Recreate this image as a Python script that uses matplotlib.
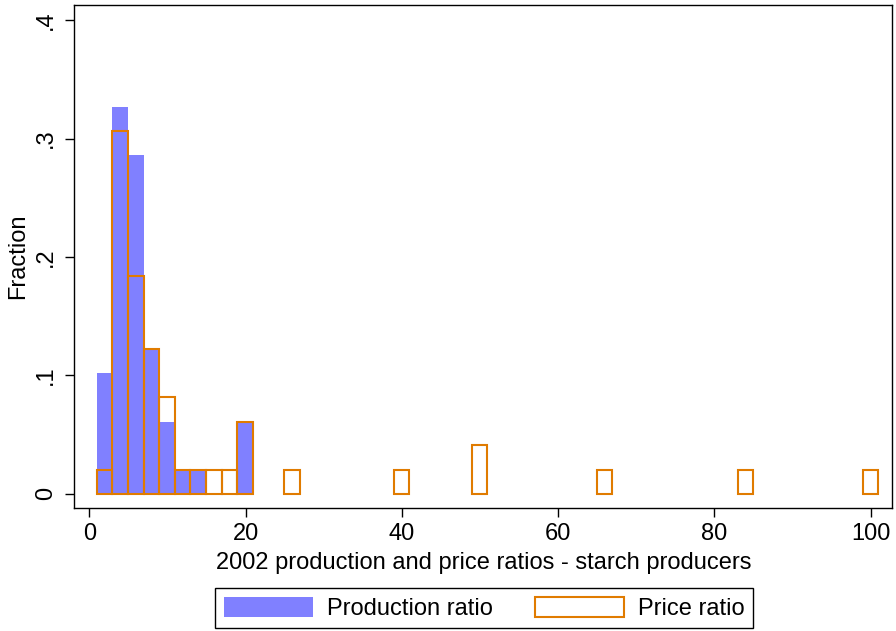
import numpy as np
import matplotlib
matplotlib.use('Agg')
import matplotlib.pyplot as plt
from matplotlib.patches import Patch

plt.rcParams['font.family'] = ['Liberation Sans', 'DejaVu Sans']

# histogram bins (width 2), left edge of each bin and its fraction
bin_width = 2
prod_start = [0.95, 2.95, 4.95, 6.95, 8.95, 10.95, 12.95, 18.95]
prod_frac = [0.102, 0.327, 0.286, 0.122, 0.061, 0.020, 0.020, 0.061]

price_start = [0.95, 2.95, 4.95, 6.95, 8.95, 10.95, 12.95, 14.95, 16.95, 18.95,
               24.95, 38.95, 48.95, 64.95, 82.95, 98.95]
price_frac = [0.020, 0.306, 0.184, 0.122, 0.082, 0.020, 0.020, 0.020, 0.020, 0.061,
              0.020, 0.020, 0.041, 0.020, 0.020, 0.020]

xticks = [0, 20, 40, 60, 80, 100]
yticks = [0, 0.1, 0.2, 0.3, 0.4]
ylabels = ['0', '.1', '.2', '.3', '.4']

blue = '#8080FF'
orange = '#E07B00'
fs = 17

fig = plt.figure(figsize=(8.96, 6.31), dpi=100)
ax = fig.add_axes([0.0829, 0.1945, 0.9130, 0.7976])

ax.bar(prod_start, prod_frac, width=bin_width, align='edge',
       color=blue, linewidth=0, zorder=2)
ax.bar(price_start, price_frac, width=bin_width, align='edge',
       facecolor='none', edgecolor=orange, linewidth=1.5, zorder=3)

ax.set_xlim(-1.92, 102.76)
ax.set_ylim(-0.0121, 0.4127)
ax.set_xticks(xticks)
ax.set_yticks(yticks)
ax.set_yticklabels(ylabels, rotation=90, va='center')
ax.tick_params(axis='both', direction='out', length=6.5, width=1,
               labelsize=fs, colors='black')
ax.tick_params(axis='x', pad=4)
ax.tick_params(axis='y', pad=6)
for s in ax.spines.values():
    s.set_linewidth(1.0)
    s.set_color('black')

ax.set_xlabel('2002 production and price ratios - starch producers',
              fontsize=fs, labelpad=5)
ax.set_ylabel('Fraction', fontsize=fs, labelpad=4)

handles = [Patch(facecolor=blue, edgecolor='none', label='Production ratio'),
           Patch(facecolor='white', edgecolor=orange, linewidth=1.5,
                 label='Price ratio')]
leg = fig.legend(handles=handles, loc='lower center', ncol=2,
                 bbox_to_anchor=(0.5406, 0.0043), borderaxespad=0,
                 fontsize=fs, frameon=True, fancybox=False, edgecolor='black',
                 framealpha=1, handlelength=3.77, handleheight=0.98,
                 handletextpad=0.6, columnspacing=1.8, borderpad=0.35)
leg.get_frame().set_linewidth(1.0)

fig.savefig('out.png', dpi=100)
